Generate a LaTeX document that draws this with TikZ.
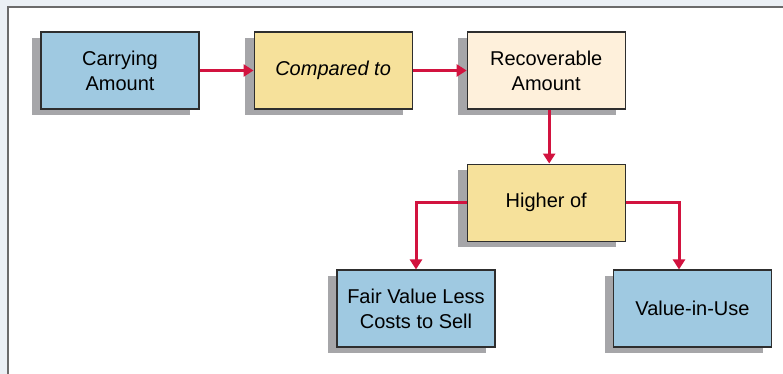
\documentclass[tikz,border=0pt]{standalone}
\usepackage{fontspec}
\setmainfont{Liberation Sans}
\usepackage{xcolor}
\usetikzlibrary{arrows.meta,positioning,shadows}
\definecolor{impblue}{HTML}{9FC9E1}
\definecolor{impyellow}{HTML}{F6E19B}
\definecolor{impcream}{HTML}{FEF0DB}
\definecolor{impshadow}{HTML}{A6A6A9}
\definecolor{impred}{HTML}{D2133F}
\definecolor{impedge}{HTML}{2E2E2E}
\definecolor{impback}{HTML}{EBF0F5}
\definecolor{impframe}{HTML}{6B6B6B}

\begin{document}
\begin{tikzpicture}[
    x=1pt, y=1pt,
    node distance=54pt,
    impbox/.style={draw=impedge, line width=1.1pt, minimum width=158pt, minimum height=77pt,
      inner sep=2pt, align=center, font=\fontsize{20}{25}\selectfont,
      drop shadow={shadow xshift=-9pt, shadow yshift=-6pt, fill=impshadow, opacity=1}},
    bluebox/.style={impbox, fill=impblue},
    yellowbox/.style={impbox, fill=impyellow},
    creambox/.style={impbox, fill=impcream},
    arrow/.style={-{Triangle[length=10pt,width=12pt]}, line width=3pt, draw=impred}
  ]
    % page and panel
    \useasboundingbox (0,0) rectangle (783,-374);
    \fill[impback] (0,0) rectangle (783,-374);
    \fill[white] (8,-7) rectangle (783,-374);
    \draw[impframe, line width=2pt] (8,-374) -- (8,-7) -- (783,-7);
    % boxes
    \node[bluebox] (carry) at (120,-70.5) {Carrying\\Amount};
    \node[yellowbox, right=of carry] (compare) {\itshape Compared to};
    \node[creambox, right=of compare] (recov) {Recoverable\\Amount};
    \node[yellowbox, below=of recov] (higher) {Higher of};
    \node[bluebox] (fair) at (416,-308.5) {Fair Value Less\\Costs to Sell};
    \node[bluebox] (use) at (692.5,-308.5) {Value-in-Use};
    % connectors
    \draw[arrow] (carry) -- (compare);
    \draw[arrow] (compare) -- (recov);
    \draw[arrow] ([xshift=3pt]recov.south) -- ([xshift=3pt]higher.north);
    \draw[arrow] (higher.west) -| (fair.north);
    \draw[arrow] (higher.east) -| ([xshift=-13.5pt]use.north);
  \end{tikzpicture}
\end{document}
